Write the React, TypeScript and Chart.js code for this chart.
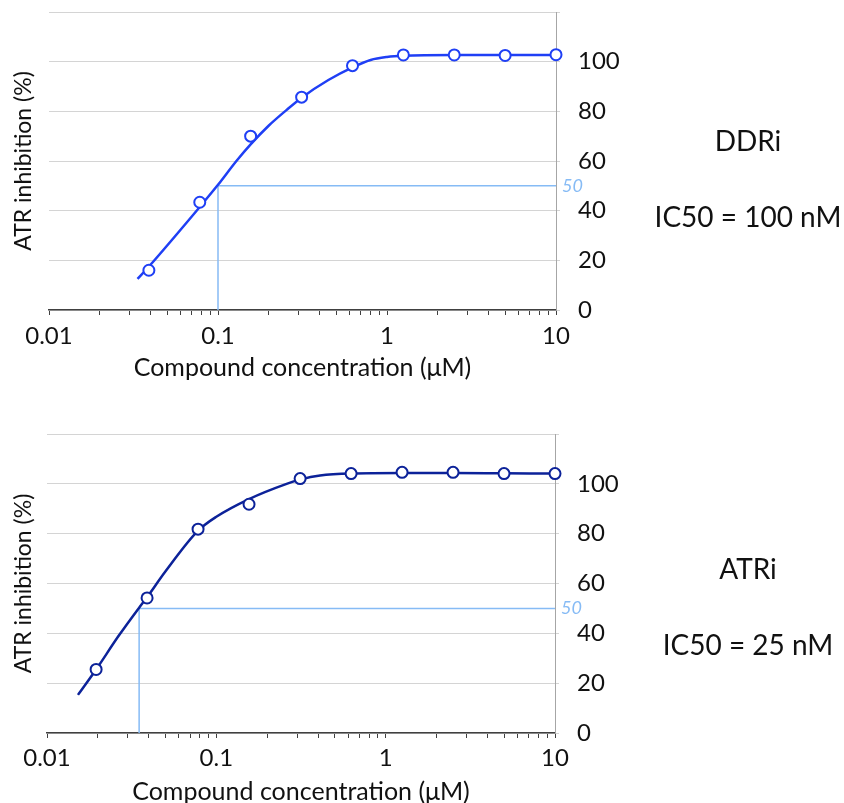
import React, { useEffect, useRef } from 'react';
import { Chart, registerables } from 'chart.js';

Chart.register(...registerables);

// ---------- data ----------
const ddriConc = [0.039, 0.078, 0.156, 0.3125, 0.625, 1.25, 2.5, 5, 10];
const ddriInhibition = [16, 43.4, 70, 85.7, 98.4, 102.7, 102.7, 102.5, 102.8];
const ddriFitConc = [0.0334, 0.039, 0.078, 0.1, 0.1285, 0.156, 0.2, 0.254, 0.3125, 0.45, 0.625, 0.8, 1, 1.25, 2.5, 5, 10];
const ddriFitValues = [12.5, 17.5, 41.5, 50.4, 60, 66.7, 74.3, 80.5, 85.5, 92.6, 97.7, 100.7, 101.9, 102.4, 102.7, 102.7, 102.7];
const ddriIC50 = 0.1;

const atrConc = [0.0195, 0.039, 0.078, 0.156, 0.3125, 0.625, 1.25, 2.5, 5, 10];
const atrInhibition = [25.5, 54.2, 81.8, 91.8, 102.1, 104.1, 104.6, 104.6, 104.1, 104.1];
const atrFitConc = [0.01524, 0.0195, 0.0265, 0.035, 0.039, 0.05, 0.078, 0.1, 0.156, 0.26, 0.3125, 0.41, 0.625, 1.25, 2.5, 5, 10];
const atrFitValues = [15.3, 25.5, 39, 50.3, 54.5, 64.8, 81.2, 86.8, 93.9, 100, 101.7, 103.3, 104.1, 104.3, 104.3, 104.2, 104.1];
const atrIC50 = 0.035;

const ic50Level = 50;
const xTickValues = [0.01, 0.1, 1, 10];
const xTickLabels = ['0.01', '0.1', '1', '10'];
const minorMultipliers = [1, 2, 3, 4, 5, 6, 7, 8, 9];
const yMin = 0;
const yMax = 120;
const yStep = 20;
const yLabelMax = 100;

const xTitle = 'Compound concentration (\u03bcM)';
const yTitle = 'ATR inhibition (%)';

const FONT = 'Lato';
Chart.defaults.font.family = FONT;

const ic50LabelPlugin = {
  id: 'ic50Label',
  afterDatasetsDraw(chart: any, _args: any, opts: any) {
    const { ctx, chartArea, scales } = chart;
    const y = scales.y.getPixelForValue(opts.value);
    ctx.save();
    ctx.font = `italic 18px ${FONT}`;
    ctx.fillStyle = opts.color;
    ctx.textBaseline = 'middle';
    ctx.textAlign = 'left';
    ctx.fillText(opts.text, chartArea.right + 6, y);
    ctx.restore();
  },
};

type PanelProps = {
  top: number;
  height: number;
  plotLeft: number;
  plotRight: number;
  plotTop: number;
  plotBottom: number;
  xTitleCenter: number;
  yTitleCenter: number;
  xLabelPad: number;
  conc: number[];
  values: number[];
  fitConc: number[];
  fitValues: number[];
  ic50: number;
  color: string;
  name: string;
  ic50Text: string;
  nameY: number;
  ic50Y: number;
};

const W = 844;
const ic50Color = '#86bbf5';
const Y_TITLE_SIZE = 23;
const X_TITLE_SIZE = 25;

function Panel(p: PanelProps) {
  const ref = useRef<HTMLCanvasElement>(null);
  useEffect(() => {
    const canvas = ref.current!;
    const tickFont = { family: FONT, size: 24 };
    const xTitleFont = { family: FONT, size: X_TITLE_SIZE };
    const yTitleFont = { family: FONT, size: Y_TITLE_SIZE };
    const allTicks: number[] = [];
    for (const d of xTickValues.slice(0, -1)) {
      for (const m of minorMultipliers) allTicks.push(+(d * m).toPrecision(6));
    }
    allTicks.push(xTickValues[xTickValues.length - 1]);

    const chart = new Chart(canvas, {
      type: 'line',
      data: {
        datasets: [
          {
            label: 'points',
            data: p.conc.map((x, i) => ({ x, y: p.values[i] })),
            showLine: false,
            pointStyle: 'circle',
            pointRadius: 5.5,
            pointBorderWidth: 2,
            pointBackgroundColor: '#ffffff',
            pointBorderColor: p.color,
            borderColor: p.color,
            clip: false as any,
            order: 0,
          },
          {
            label: 'fit',
            data: p.fitConc.map((x, i) => ({ x, y: p.fitValues[i] })),
            borderColor: p.color,
            borderWidth: 2.5,
            pointRadius: 0,
            cubicInterpolationMode: 'monotone',
            clip: false as any,
            order: 1,
          },
          {
            label: 'ic50',
            data: [
              { x: p.ic50, y: yMin },
              { x: p.ic50, y: ic50Level },
              { x: xTickValues[xTickValues.length - 1], y: ic50Level },
            ],
            borderColor: ic50Color,
            borderWidth: 1.5,
            pointRadius: 0,
            tension: 0,
            order: 2,
          },
        ],
      } as any,
      options: {
        responsive: false,
        animation: false,
        layout: { padding: { top: p.plotTop, left: 0, right: 0, bottom: 0 } },
        plugins: {
          legend: { display: false },
          tooltip: { enabled: false },
          ic50Label: { value: ic50Level, text: String(ic50Level), color: ic50Color },
        } as any,
        scales: {
          x: {
            type: 'logarithmic',
            min: xTickValues[0],
            max: xTickValues[xTickValues.length - 1],
            afterBuildTicks: (s: any) => {
              s.ticks = allTicks.map((v) => ({ value: v }));
            },
            afterFit: (s: any) => {
              s.height = p.height - p.plotBottom;
              s.paddingLeft = 0;
              s.paddingRight = 0;
            },
            grid: {
              drawOnChartArea: false,
              drawTicks: true,
              tickLength: 5,
              color: '#404040',
              lineWidth: 1,
            },
            border: { display: true, color: '#404040', width: 1.5 },
            ticks: {
              autoSkip: false,
              maxRotation: 0,
              padding: p.xLabelPad,
              color: '#111',
              font: tickFont,
              callback: (v: any) => {
                const val = Number(v);
                const idx = xTickValues.findIndex((t) => Math.abs(t - val) / t < 1e-6);
                return idx >= 0 ? xTickLabels[idx] : '';
              },
            },
            title: {
              display: true,
              text: xTitle,
              color: '#111',
              font: xTitleFont,
              padding: { top: 0, bottom: p.height - p.xTitleCenter - (X_TITLE_SIZE * 1.2) / 2 },
            },
          },
          y: {
            type: 'linear',
            position: 'right',
            min: yMin,
            max: yMax,
            afterFit: (s: any) => {
              s.width = W - p.plotRight;
              s.paddingTop = 0;
              s.paddingBottom = 0;
            },
            ticks: {
              stepSize: yStep,
              padding: 18,
              color: '#111',
              font: tickFont,
              callback: (v: any) => (Number(v) <= yLabelMax ? String(v) : ''),
            },
            grid: { color: '#d4d4d4', lineWidth: 1, tickLength: 4 },
            border: { display: true, color: '#a6a6a6', width: 1 },
          },
          yl: {
            type: 'linear',
            position: 'left',
            min: yMin,
            max: yMax,
            afterFit: (s: any) => {
              s.width = p.plotLeft;
              s.paddingTop = 0;
              s.paddingBottom = 0;
            },
            ticks: { display: false },
            grid: { display: false },
            border: { display: false },
            title: {
              display: true,
              text: yTitle,
              color: '#111',
              font: yTitleFont,
              padding: { top: p.yTitleCenter - (Y_TITLE_SIZE * 1.2) / 2, bottom: 0 },
            },
          },
        },
      } as any,
      plugins: [ic50LabelPlugin as any],
    });
    return () => chart.destroy();
  }, []);

  const textStyle: React.CSSProperties = {
    position: 'absolute',
    left: 748,
    transform: 'translate(-50%, -50%)',
    fontFamily: FONT,
    fontSize: 28,
    lineHeight: 1,
    whiteSpace: 'nowrap',
    color: '#111',
  };

  return (
    <div style={{ position: 'absolute', left: 0, top: p.top, width: W, height: p.height }}>
      <canvas ref={ref} width={W} height={p.height} style={{ display: 'block', width: W, height: p.height }} />
      <div style={{ ...textStyle, top: p.nameY }}>{p.name}</div>
      <div style={{ ...textStyle, top: p.ic50Y }}>{p.ic50Text}</div>
    </div>
  );
}

export default function App() {
  return (
    <div
      style={{
        position: 'fixed',
        left: 0,
        top: 0,
        width: W,
        height: 803,
        overflow: 'hidden',
        background: '#ffffff',
      }}
    >
      <Panel
        top={0}
        height={400}
        plotLeft={49}
        plotRight={556}
        plotTop={12}
        plotBottom={310}
        xTitleCenter={368}
        yTitleCenter={24}
        xLabelPad={7}
        conc={ddriConc}
        values={ddriInhibition}
        fitConc={ddriFitConc}
        fitValues={ddriFitValues}
        ic50={ddriIC50}
        color="#1f3ff5"
        name="DDRi"
        ic50Text="IC50 = 100 nM"
        nameY={140}
        ic50Y={216}
      />
      <Panel
        top={400}
        height={420}
        plotLeft={47}
        plotRight={555}
        plotTop={34}
        plotBottom={333}
        xTitleCenter={391.7}
        yTitleCenter={24}
        xLabelPad={6}
        conc={atrConc}
        values={atrInhibition}
        fitConc={atrFitConc}
        fitValues={atrFitValues}
        ic50={atrIC50}
        color="#0c2299"
        name="ATRi"
        ic50Text="IC50 = 25 nM"
        nameY={168}
        ic50Y={244}
      />
    </div>
  );
}
